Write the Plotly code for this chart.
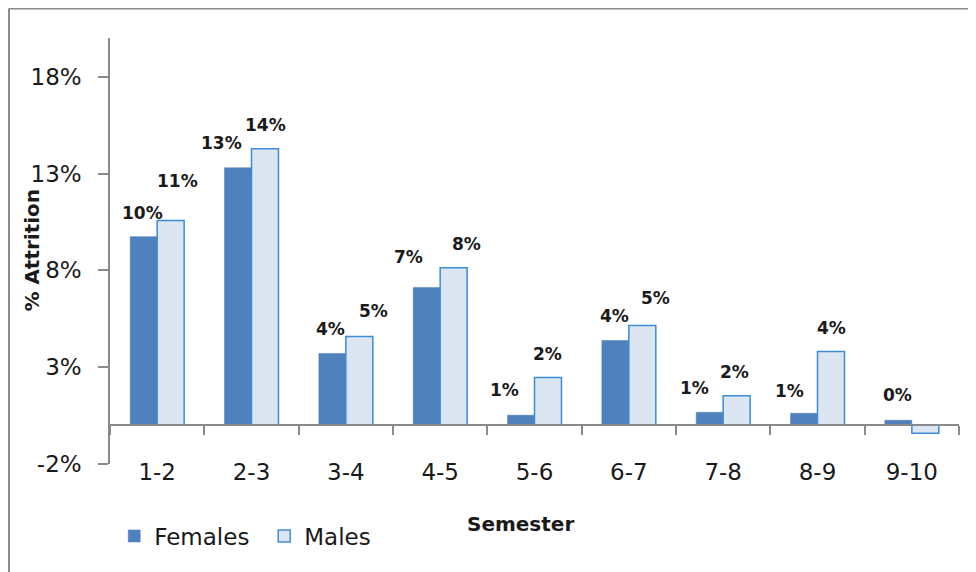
import plotly.graph_objects as go

semesters = ['1-2', '2-3', '3-4', '4-5', '5-6', '6-7', '7-8', '8-9', '9-10']
females = [9.74, 13.30, 3.71, 7.11, 0.52, 4.38, 0.67, 0.62, 0.26]
males = [10.57, 14.28, 4.59, 8.14, 2.47, 5.15, 1.52, 3.81, -0.41]
y_ticks = [-2, 3, 8, 13, 18]

# hand nudges of the data labels (px), as they sit in the original
f_dx = [-1, -17, -2, -18, -17, -1, -15, -15, -1]
f_dy = [24, 25, 24, 31, 25, 24, 24, 22, 25]
m_dx = [7, 0, 14, 13, -1, 13, -2, 0, 0]
m_dy = [40, 24, 25, 24, 23, 28, 24, 24, 24]

FONT = 'DejaVu Sans'
TEXT = '#1a1a1a'
AXIS = '#8a8a8a'

fig = go.Figure()
fig.add_trace(go.Bar(
    x=semesters, y=females, name='Females',
    marker=dict(color='#4F81BD', line=dict(color='#4A7DBA', width=0.5)),
))
fig.add_trace(go.Bar(
    x=semesters, y=males, name='Males',
    marker=dict(color='#DCE6F2', line=dict(color='#3C8CD8', width=1.5)),
))

half = 13.5
for i, s in enumerate(semesters):
    fig.add_annotation(
        x=s, y=females[i], xref='x', yref='y',
        text=f'{round(females[i]):.0f}%', showarrow=False,
        xanchor='center', yanchor='middle',
        xshift=-half + f_dx[i], yshift=f_dy[i],
        font=dict(family=FONT, size=17, color=TEXT, weight='bold'),
    )
    if males[i] >= 0:
        fig.add_annotation(
            x=s, y=males[i], xref='x', yref='y',
            text=f'{round(males[i]):.0f}%', showarrow=False,
            xanchor='center', yanchor='middle',
            xshift=half + m_dx[i], yshift=m_dy[i],
            font=dict(family=FONT, size=17, color=TEXT, weight='bold'),
        )

fig.add_annotation(
    x=0.483, y=-0.14, xref='paper', yref='paper', showarrow=False,
    xanchor='center', yanchor='middle',
    text='Semester', font=dict(family=FONT, size=20, color=TEXT, weight='bold'),
)
fig.add_annotation(
    x=-0.092, y=0.503, xref='paper', yref='paper', showarrow=False,
    xanchor='center', yanchor='middle',
    text='% Attrition', textangle=-90,
    font=dict(family=FONT, size=20, color=TEXT, weight='bold'),
)

# outer chart frame (top and left edges)
fig.add_shape(type='line', xref='paper', yref='paper', x0=-0.119, x1=1.03, y0=1.069, y1=1.069,
              line=dict(color=AXIS, width=2))
fig.add_shape(type='line', xref='paper', yref='paper', x0=-0.119, x1=-0.119, y0=-0.26, y1=1.069,
              line=dict(color=AXIS, width=2))

# page body keeps an 8px margin, so the figure is sized for that
fig.update_layout(
    width=968, height=564,
    margin=dict(l=102, r=17, t=30, b=108),
    paper_bgcolor='white', plot_bgcolor='white',
    barmode='group', bargap=0.428, bargroupgap=0,
    font=dict(family=FONT, size=23, color=TEXT),
    showlegend=True,
    legend=dict(
        orientation='h', x=0.005, xanchor='left', y=-0.169, yanchor='middle',
        font=dict(family=FONT, size=23, color=TEXT),
        entrywidth=105, entrywidthmode='pixels', traceorder='normal',
    ),
    xaxis=dict(
        type='category', anchor='free', position=2 / 22,
        showline=True, linecolor=AXIS, linewidth=1.5,
        ticks='outside', ticklen=9, tickcolor=AXIS, tickwidth=1.5,
        tickson='boundaries', ticklabelstandoff=26,
        showgrid=False, zeroline=False,
    ),
    yaxis=dict(
        range=[-2, 20], tickvals=y_ticks, ticktext=[f'{v}%' for v in y_ticks],
        showline=True, linecolor=AXIS, linewidth=1.5,
        ticks='outside', ticklen=10, tickcolor=AXIS, tickwidth=1.5,
        ticklabelstandoff=12,
        showgrid=False, zeroline=False,
    ),
)

fig.write_html('out.html')
